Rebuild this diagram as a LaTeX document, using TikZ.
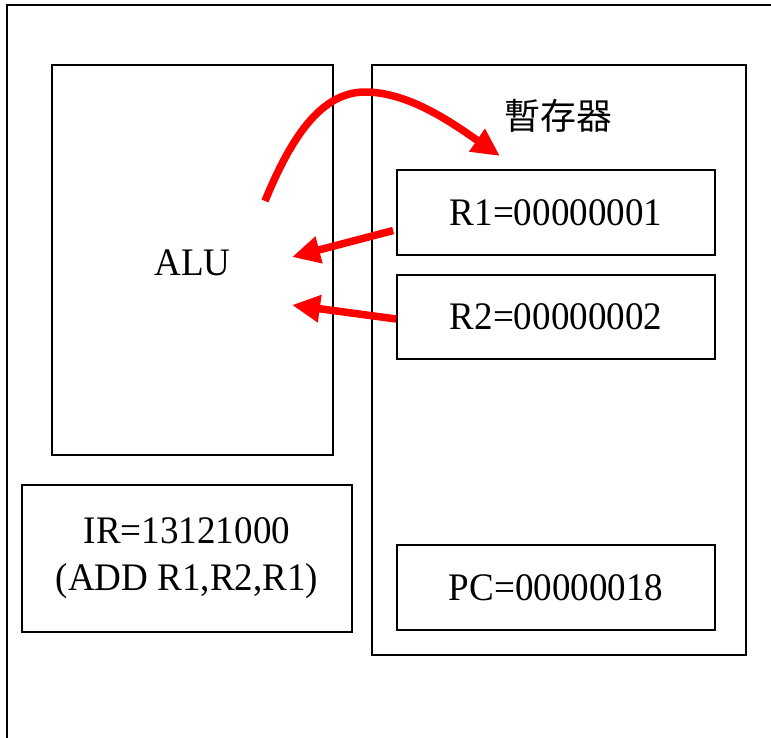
\documentclass[tikz,border=0pt]{standalone}
\usepackage{fontspec}
\setmainfont{Liberation Serif}[FakeStretch=0.95]
\newfontfamily\cjk{Noto Sans CJK TC}
\usetikzlibrary{arrows.meta}
\begin{document}
\begin{tikzpicture}[x=1pt,y=-1pt,
  box/.style={draw=black, line width=1.6pt, inner sep=0pt, rectangle,
    font=\fontsize{39}{47}\selectfont, align=center},
  redarrow/.style={draw=red, line width=7.5pt,
    -{Triangle[length=28pt,width=26pt]}}]
\useasboundingbox (0,0) rectangle (771,737);
\draw[line width=1.6pt] (7,745) -- (7,5) -- (780,5);
\node[box, minimum width=281pt, minimum height=390pt] (alu) at (192.5,260) {};
\node[font=\fontsize{39}{47}\selectfont, inner sep=0pt] (alulabel) at (192.5,263) {ALU};
\node[box, minimum width=374pt, minimum height=590pt] (reg) at (559,360) {};
\node[font=\cjk\fontsize{36}{40}\selectfont, inner sep=0pt] (reglabel) at (558,116) {暫存器};
\node[box, minimum width=318pt, minimum height=85pt] (r1) at (556,212.5) {R1=00000001};
\node[box, minimum width=318pt, minimum height=84pt] (r2) at (556,317) {R2=00000002};
\node[box, minimum width=318pt, minimum height=85pt] (pc) at (556,587.5) {PC=00000018};
\node[box, minimum width=330pt, minimum height=147pt] (ir) at (187,558.5) {IR=13121000\\(ADD R1,R2,R1)};
\coordinate (curvestart) at (265,201);
\coordinate (curvetip) at (500,156);
\coordinate (aluin1) at (292,257);
\coordinate (aluin2) at (292,305);
\draw[redarrow] (curvestart) .. controls (290,140) and (320,92) .. (365,92)
  .. controls (410,92) and (455,125) .. (curvetip);
\draw[redarrow] ([yshift=-18pt,xshift=-3pt]r1.west) -- (aluin1);
\draw[redarrow] ([yshift=-2pt]r2.west) -- (aluin2);
\end{tikzpicture}
\end{document}
